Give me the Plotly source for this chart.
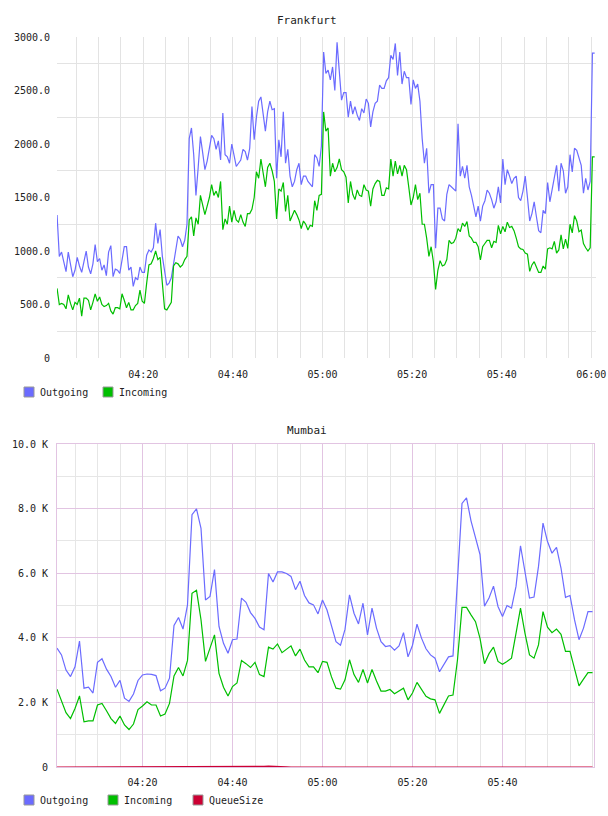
import plotly.graph_objects as go
import pandas as pd

# ---------------- Frankfurt (30 s samples) ----------------
FRA_START = "2024-01-01 04:00:45"
fra_outgoing = [
    1336, 950, 990, 885, 807, 990, 860, 760, 820, 940, 860, 800, 900, 1000, 850, 787, 880, 1060, 900, 930,
    820, 870, 770, 990, 1050, 760, 830, 820, 790, 900, 1040, 1040, 820, 850, 670, 750, 730, 850, 800, 800,
    960, 1010, 990, 1030, 1260, 1070, 1200, 950, 800,
    680, 700, 750, 880, 1000, 1140, 1110, 1040, 1100, 1250, 2050, 2150, 1900, 1520, 1780, 2070, 1920, 1760,
    1840, 1950, 2080, 2050, 1950, 2030, 1850, 2290, 1900, 1880, 1820, 2000, 1900, 1790, 1820, 1850, 1950,
    1930, 1850, 1960, 2350, 2040, 2250, 2400, 2440, 2250, 2120, 2300, 2400, 2320,
    2330, 1680, 2040, 1880, 2300, 1820, 1950, 1700, 1600, 1650, 1760, 1820, 1620, 1700, 1700, 1650, 1620,
    1600, 1900, 1870, 1790, 1980, 2860, 2660, 2690, 2600, 2720, 2500, 2950, 2700, 2410, 2480, 2480, 2250,
    2400, 2280, 2350, 2270, 2220, 2330, 2290, 2420, 2380, 2160, 2300, 2380, 2400, 2550,
    2520, 2520, 2590, 2620, 2830, 2790, 2940, 2640, 2860, 2560, 2680, 2620, 2620, 2370, 2600, 2520, 2560,
    2400, 2050, 1820, 1960, 1540, 1620, 1620, 1025, 1400, 1400, 1300, 1280, 1530, 1620, 1600, 1580, 1560,
    2190, 1700, 1790, 1680, 1800, 1600, 1520, 1400, 1320, 1420, 1280, 1420, 1470, 1570,
    1540, 1480, 1400, 1460, 1600, 1450, 1860, 1620, 1760, 1700, 1630, 1680, 1700, 1500, 1470, 1560, 1700,
    1500, 1280, 1350, 1460, 1320, 1190, 1170, 1380, 1350, 1640, 1460, 1580, 1660, 1800, 1560, 1820, 1750,
    1540, 1600, 1900, 1740, 1960, 1940, 1870, 1800, 1540, 1680, 1570, 1650, 2850, 2850,
]
fra_incoming = [
    650, 500, 510, 500, 460, 590, 510, 450, 520, 500, 560, 390, 560, 560, 540, 450, 520, 600, 530, 570,
    500, 480, 490, 510, 440, 410, 470, 470, 460, 600, 540, 470, 520, 450, 450, 490, 510, 635, 530, 510,
    700, 870, 880, 930, 1000, 920, 940, 700, 460,
    450, 480, 520, 860, 890, 880, 850, 870, 920, 950, 1290, 1320, 1140, 1310, 1250, 1520, 1420, 1340,
    1420, 1500, 1620, 1520, 1560, 1500, 1650, 1200, 1300, 1250, 1420, 1270, 1380, 1290, 1270, 1340, 1270,
    1230, 1350, 1350, 1390, 1500, 1740, 1680, 1860, 1740, 1600, 1780, 1820, 1750,
    1650, 1300, 1580, 1560, 1640, 1370, 1520, 1280, 1330, 1380, 1340, 1290, 1210, 1280, 1250, 1196, 1240,
    1230, 1470, 1380, 1520, 1530, 2300, 2120, 2150, 1700, 1820, 1740, 1780, 1860, 1760, 1740, 1690, 1450,
    1650, 1530, 1480, 1570, 1520, 1510, 1620, 1570, 1560, 1420, 1580, 1630, 1660, 1650,
    1520, 1520, 1590, 1580, 1860, 1700, 1840, 1720, 1800, 1700, 1800, 1760, 1600, 1430, 1500, 1620, 1480,
    1540, 1250, 1250, 1120, 950, 1040, 900, 640, 820, 910, 860, 870, 920, 1100, 1070, 1080, 1120, 1210,
    1180, 1260, 1230, 1275, 1140, 1120, 1080, 1080, 1040, 916, 1040, 1070, 1100,
    1100, 1030, 1090, 1080, 1240, 1160, 1230, 1180, 1270, 1220, 1230, 1190, 1120, 1040, 1020, 1015, 980,
    970, 810, 870, 900, 850, 800, 800, 860, 830, 1020, 1030, 1020, 1090, 980, 1010, 1150, 1020, 1110,
    1025, 1250, 1170, 1330, 1280, 1180, 1196, 1070, 1030, 1000, 1030, 1880, 1880,
]

# ---------------- Mumbai (1 min samples) ----------------
MUM_START = "2024-01-01 04:01:00"
mum_outgoing = [
    3680, 3470, 3000, 2800, 3100, 3900, 2440, 2470, 2290, 3240, 3350, 3030, 2800, 2470, 2680, 2130, 2030,
    2260, 2680, 2850, 2880, 2870, 2830, 2360, 2440, 2750, 4380, 4630, 4270, 5020, 7810, 7990, 7390, 5170,
    5280, 6110, 4350, 3830, 3520, 3940, 3960, 5230, 5100, 4780, 4600, 4330, 4250, 5990, 5730, 6040, 6040,
    5990, 5900, 5490, 5750, 5310, 5080, 5020, 4740, 5170, 4860,
    4350, 3880, 3770, 4260, 5330, 4760, 4430, 5070, 4090, 4920, 4300, 3880, 3730, 3760, 3620, 3750, 4160,
    3410, 3770, 4420, 3990, 3660, 3470, 3370, 2950, 3190, 3410, 3440, 5800, 8160, 8330, 7620, 7100, 6580,
    4980, 5230, 5600, 4970, 4660, 5000, 4920, 5590, 6850, 6050, 5230, 5260, 6210, 7550, 6980, 6620, 6800,
    6160, 5250, 5310, 4560, 3940, 4300, 4810, 4810,
]
mum_incoming = [
    2410, 2020, 1680, 1500, 1810, 2200, 1400, 1430, 1430, 1920, 1970, 1740, 1500, 1350, 1580, 1300, 1160,
    1330, 1780, 1890, 2020, 1920, 1920, 1580, 1640, 1970, 2820, 3080, 2820, 3300, 5380, 5470, 4560, 3270,
    3650, 4090, 2900, 2470, 2200, 2490, 2600, 3300, 3200, 3080, 3240, 2860, 2800, 3710, 3650, 3810, 3540,
    3650, 3750, 3440, 3650, 3310, 3100, 3100, 2920, 3270, 3240,
    2790, 2440, 2410, 2700, 3320, 2860, 2620, 3020, 2600, 3020, 2660, 2350, 2350, 2400, 2270, 2350, 2440,
    2080, 2290, 2620, 2400, 2190, 2110, 2080, 1660, 1920, 2200, 2230, 3320, 4940, 4940, 4710, 4500, 3980,
    3200, 3510, 3710, 3270, 3180, 3270, 3370, 4140, 4920, 4140, 3470, 3370, 3780, 4810, 4330, 4160, 4270,
    4110, 3580, 3580, 3020, 2510, 2720, 2920, 2920,
]
mum_queue = [
    0, 0, 0, 0, 0, 0, 0, 0, 0, 0, 0, 0, 0, 0, 0, 0, 0, 0, 0, 0,
    0, 0, 0, 0, 0, 0, 0, 0, 0, 0, 5, 10, 10, 5, 0, 0, 0, 0, 0, 0,
    0, 0, 0, 0, 5, 10, 20, 25, 25, 20, 10, 5, 0, 0, 0, 0, 0, 0, 0, 0,
    0, 0, 0, 0, 0, 0, 0, 0, 0, 0, 0, 0, 0, 0, 0, 0, 0, 0, 0, 0,
    0, 0, 0, 0, 0, 0, 0, 0, 0, 0, 0, 0, 0, 0, 0, 0, 0, 0, 0, 0,
    0, 0, 0, 0, 0, 0, 0, 5, 10, 10, 5, 0, 0, 0, 0, 0, 0, 0, 0, 0,
]

fra_ticks = ["04:20", "04:40", "05:00", "05:20", "05:40", "06:00"]
mum_ticks = ["04:20", "04:40", "05:00", "05:20", "05:40"]
fra_yticks = [0, 500, 1000, 1500, 2000, 2500, 3000]
fra_ylabels = ["0", "500.0", "1000.0", "1500.0", "2000.0", "2500.0", "3000.0"]
mum_yticks = [0, 2000, 4000, 6000, 8000, 10000]
mum_ylabels = ["0", "2.0 K", "4.0 K", "6.0 K", "8.0 K", "10.0 K"]
fra_series = ["Outgoing", "Incoming"]
mum_series = ["Outgoing", "Incoming", "QueueSize"]

DAY = "2024-01-01 "
fra_t = pd.date_range(FRA_START, periods=len(fra_outgoing), freq="30s")
mum_t = pd.date_range(MUM_START, periods=len(mum_outgoing), freq="1min")

C_OUT = "#6b6bff"
C_IN = "#00bf00"
C_Q = "#cc0033"
COLORS = {"Outgoing": C_OUT, "Incoming": C_IN, "QueueSize": C_Q}
FONT = "DejaVu Sans Mono"
GRID = "#e3e3e3"
PINK = "#e2c4e2"
W, H = 608, 816

fig = go.Figure()
fig.add_trace(go.Scatter(x=fra_t, y=fra_outgoing, name="Outgoing", mode="lines",
                         line=dict(color=C_OUT, width=1.2), xaxis="x", yaxis="y", showlegend=False))
fig.add_trace(go.Scatter(x=fra_t, y=fra_incoming, name="Incoming", mode="lines",
                         line=dict(color=C_IN, width=1.2), xaxis="x", yaxis="y", showlegend=False))
fig.add_trace(go.Scatter(x=mum_t, y=mum_outgoing, name="Outgoing", mode="lines",
                         line=dict(color=C_OUT, width=1.2), xaxis="x2", yaxis="y2", showlegend=False))
fig.add_trace(go.Scatter(x=mum_t, y=mum_incoming, name="Incoming", mode="lines",
                         line=dict(color=C_IN, width=1.2), xaxis="x2", yaxis="y2", showlegend=False))
fig.add_trace(go.Scatter(x=mum_t, y=mum_queue, name="QueueSize", mode="lines",
                         line=dict(color=C_Q, width=1.2), xaxis="x2", yaxis="y2", showlegend=False))

tickfont = dict(family=FONT, size=10, color="#222222")

# Legends drawn as swatch + label rows (square swatches like the original)
shapes, annotations = [], []
def legend_row(names, ypx, xs):
    for name, x in zip(names, xs):
        shapes.append(dict(type="rect", xref="paper", yref="paper",
                           x0=x / W, x1=(x + 10) / W, y0=1 - (ypx + 5) / H, y1=1 - (ypx - 5) / H,
                           fillcolor=COLORS[name], line=dict(color="#999999", width=1)))
        annotations.append(dict(text=name, xref="paper", yref="paper", x=(x + 14) / W, y=1 - ypx / H,
                                xanchor="left", yanchor="middle", showarrow=False,
                                font=dict(family=FONT, size=10, color="#222222")))

legend_row(fra_series, 392, [24, 103])
legend_row(mum_series, 800, [24, 108, 193])

annotations += [
    dict(text="Frankfurt", x=307 / W, y=1 - 20 / H, xref="paper", yref="paper",
         xanchor="center", yanchor="middle", showarrow=False, font=dict(family=FONT, size=11, color="#222222")),
    dict(text="Mumbai", x=307 / W, y=1 - 430 / H, xref="paper", yref="paper",
         xanchor="center", yanchor="middle", showarrow=False, font=dict(family=FONT, size=11, color="#222222")),
]

fig.update_layout(
    width=W, height=H,
    margin=dict(l=0, r=0, t=0, b=0, autoexpand=False),
    paper_bgcolor="white", plot_bgcolor="white",
    font=dict(family=FONT, size=10, color="#222222"),
    showlegend=False,
    xaxis=dict(
        domain=[57 / W, 596 / W], anchor="y", automargin=False,
        type="date",
        range=[DAY + "04:00:44", DAY + "06:01:03"],
        tickvals=[DAY + t for t in fra_ticks], ticktext=fra_ticks,
        showgrid=True, gridcolor=GRID, gridwidth=1,
        minor=dict(tick0=DAY + "04:00:00", dtick=300000, showgrid=True, gridcolor=GRID, gridwidth=1),
        zeroline=False, showline=False, ticks="", tickfont=tickfont, ticklabelstandoff=9,
    ),
    yaxis=dict(
        domain=[1 - 358 / H, 1 - 37 / H], anchor="x", automargin=False,
        range=[0, 3000],
        tickvals=fra_yticks, ticktext=fra_ylabels,
        showgrid=False,
        minor=dict(tick0=250, dtick=500, showgrid=True, gridcolor=GRID, gridwidth=1),
        zeroline=False, showline=False, ticks="", tickfont=tickfont, ticklabelstandoff=6,
    ),
    xaxis2=dict(
        domain=[57 / W, 594 / W], anchor="y2", automargin=False,
        type="date",
        range=[DAY + "04:01:00", DAY + "06:00:20"],
        tickvals=[DAY + t for t in mum_ticks], ticktext=mum_ticks,
        showgrid=True, gridcolor=PINK, gridwidth=1,
        minor=dict(tick0=DAY + "04:00:00", dtick=300000, showgrid=True, gridcolor="#e6e6e6", gridwidth=1),
        zeroline=False, showline=True, linecolor=PINK, linewidth=1, mirror=True,
        ticks="", tickfont=tickfont, ticklabelstandoff=6,
    ),
    yaxis2=dict(
        domain=[1 - 767 / H, 1 - 444 / H], anchor="x2", automargin=False,
        range=[0, 10000],
        tickvals=mum_yticks, ticktext=mum_ylabels,
        showgrid=True, gridcolor=PINK, gridwidth=1,
        minor=dict(tick0=0, dtick=1000, showgrid=True, gridcolor="#e6e6e6", gridwidth=1),
        zeroline=False, showline=True, linecolor=PINK, linewidth=1, mirror=True,
        ticks="", tickfont=tickfont, ticklabelstandoff=6,
    ),
    shapes=shapes,
    annotations=annotations,
)

fig.write_html("out.html")
